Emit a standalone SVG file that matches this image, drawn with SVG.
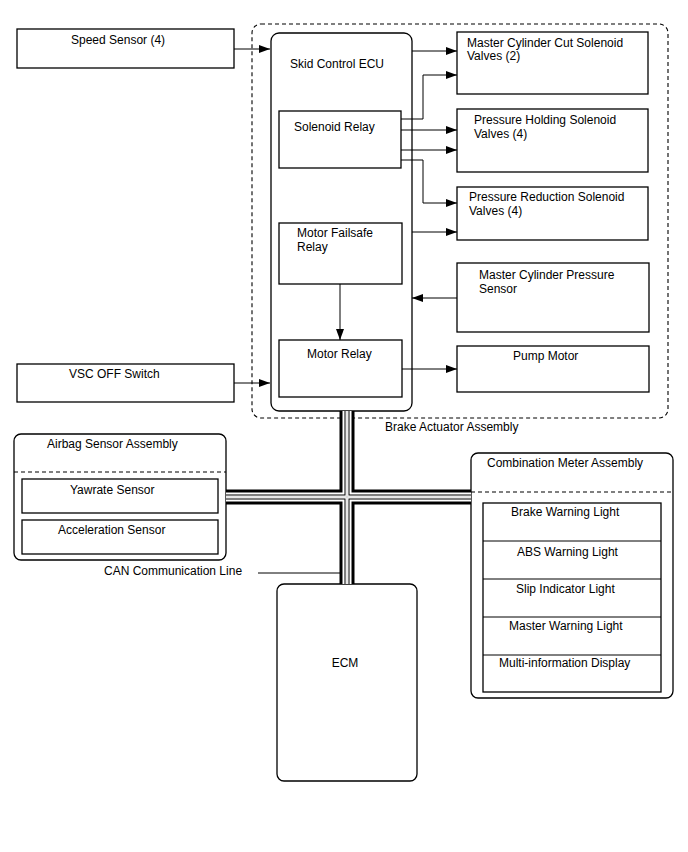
<svg xmlns="http://www.w3.org/2000/svg" width="688" height="852" viewBox="0 0 688 852">
<defs>
<marker id="arr" markerUnits="userSpaceOnUse" markerWidth="11" markerHeight="8" refX="11" refY="4" orient="auto">
<path d="M0,0 L11,4 L0,8 z" fill="#000"/>
</marker>
<style>
text{font-family:"Liberation Sans",Arial,sans-serif;font-size:12px;fill:#000}
.box{fill:#fff;stroke:#000;stroke-width:1.3}
.dash{fill:none;stroke:#000;stroke-width:1.1;stroke-dasharray:4,3}
.wire{fill:none;stroke:#000;stroke-width:1;marker-end:url(#arr)}
.line{fill:none;stroke:#000;stroke-width:1}
</style>
</defs>
<rect width="688" height="852" fill="#fff"/>

<g id="brake-actuator-assembly">
<rect class="dash" x="252" y="24" width="416" height="394" rx="9"/>
<text x="385" y="431">Brake Actuator Assembly</text>
</g>

<g id="speed-sensor">
<rect class="box" x="17" y="29" width="217" height="39"/>
<text x="71" y="44">Speed Sensor (4)</text>
</g>

<g id="vsc-off-switch">
<rect class="box" x="17" y="364" width="217" height="38"/>
<text x="69" y="378">VSC OFF Switch</text>
</g>

<g id="skid-control-ecu">
<rect class="box" x="271" y="33" width="141" height="378" rx="8"/>
<text x="290" y="68">Skid Control ECU</text>
</g>

<g id="solenoid-relay">
<rect class="box" x="279" y="111" width="122" height="57"/>
<text x="294" y="131">Solenoid Relay</text>
</g>

<g id="motor-failsafe-relay">
<rect class="box" x="279" y="223" width="123" height="61"/>
<text x="297" y="237">Motor Failsafe</text>
<text x="297" y="251">Relay</text>
</g>

<g id="motor-relay">
<rect class="box" x="279" y="340" width="123" height="57"/>
<text x="307" y="358">Motor Relay</text>
</g>

<g id="master-cylinder-cut">
<rect class="box" x="457" y="32" width="191" height="62"/>
<text x="467" y="47">Master Cylinder Cut Solenoid</text>
<text x="467" y="60">Valves (2)</text>
</g>

<g id="pressure-holding">
<rect class="box" x="457" y="109" width="191" height="63"/>
<text x="474" y="124">Pressure Holding Solenoid</text>
<text x="474" y="138">Valves (4)</text>
</g>

<g id="pressure-reduction">
<rect class="box" x="457" y="187" width="191" height="53"/>
<text x="469" y="201">Pressure Reduction Solenoid</text>
<text x="469" y="215">Valves (4)</text>
</g>

<g id="master-cylinder-pressure-sensor">
<rect class="box" x="457" y="263" width="192" height="69"/>
<text x="479" y="279">Master Cylinder Pressure</text>
<text x="479" y="293">Sensor</text>
</g>

<g id="pump-motor">
<rect class="box" x="457" y="346" width="192" height="46"/>
<text x="513" y="360">Pump Motor</text>
</g>

<g id="airbag-sensor-assembly">
<rect class="box" x="14" y="434" width="212" height="126" rx="7"/>
<line class="dash" x1="14" y1="472" x2="226" y2="472"/>
<text x="47" y="448">Airbag Sensor Assembly</text>
<rect class="box" x="22" y="479" width="196" height="34"/>
<text x="70" y="494">Yawrate Sensor</text>
<rect class="box" x="22" y="520" width="196" height="34"/>
<text x="58" y="534">Acceleration Sensor</text>
</g>

<g id="combination-meter-assembly">
<rect class="box" x="471" y="453" width="202" height="245" rx="7"/>
<line class="dash" x1="471" y1="492" x2="673" y2="492"/>
<text x="487" y="467">Combination Meter Assembly</text>
<rect class="box" x="483" y="503" width="178" height="189"/>
<line class="line" x1="483" y1="541" x2="661" y2="541"/>
<line class="line" x1="483" y1="579" x2="661" y2="579"/>
<line class="line" x1="483" y1="617" x2="661" y2="617"/>
<line class="line" x1="483" y1="655" x2="661" y2="655"/>
<text x="511" y="516">Brake Warning Light</text>
<text x="517" y="556">ABS Warning Light</text>
<text x="516" y="593">Slip Indicator Light</text>
<text x="509" y="630">Master Warning Light</text>
<text x="499" y="667">Multi-information Display</text>
</g>

<g id="ecm">
<rect class="box" x="277" y="584" width="140" height="197" rx="7"/>
<text x="345" y="667" text-anchor="middle">ECM</text>
</g>

<g id="connectors">
<path class="wire" d="M234,49 H270"/>
<path class="wire" d="M234,383 H270"/>
<path class="wire" d="M412,51 H457"/>
<path class="wire" d="M401,119 H423 V75 H457"/>
<path class="wire" d="M401,130 H457"/>
<path class="wire" d="M401,150 H457"/>
<path class="wire" d="M401,160 H423 V203 H457"/>
<path class="wire" d="M412,232 H457"/>
<path class="wire" d="M457,298 H412"/>
<path class="wire" d="M402,369 H457"/>
<path class="wire" d="M340,284 V340"/>
<g id="can-bus" fill="none">
<path d="M347,411 V584 M226,497 H471" stroke="#000" stroke-width="15"/>
<path d="M347,411 V584 M226,497 H471" stroke="#fff" stroke-width="9"/>
<path d="M347,411 V584 M226,497 H471" stroke="#000" stroke-width="5"/>
<path d="M347,411 V584 M226,497 H471" stroke="#fff" stroke-width="3"/>
<path d="M347,411 V584 M226,497 H471" stroke="#bbb" stroke-width="0.7"/>
</g>
<path class="line" d="M258,573 H340"/>
</g>
<text x="104" y="575">CAN Communication Line</text>
</svg>
